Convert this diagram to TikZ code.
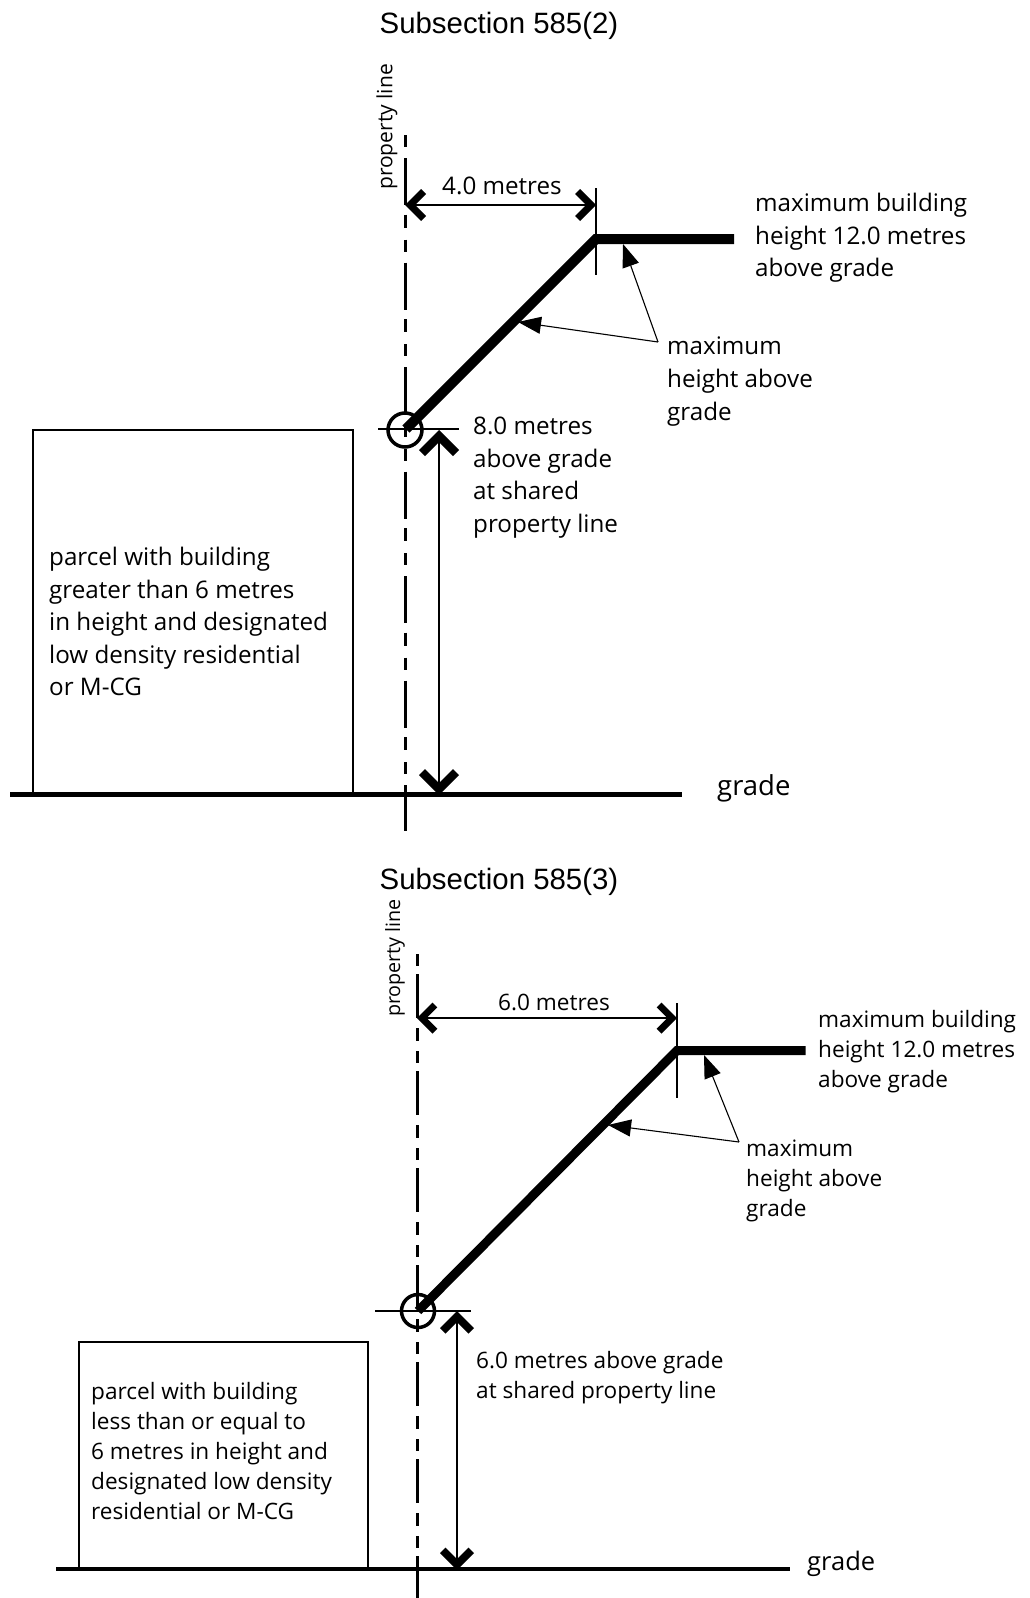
\documentclass[tikz,border=0pt]{standalone}
\usepackage{fontspec}
\setmainfont{Open Sans}
\newfontfamily\titlefont{Liberation Sans}
\usetikzlibrary{arrows.meta}
\pgfdeclarearrow{
    name=Chevron,
    defaults={length=+15pt, width=+4.5pt},
    setup code={
        \pgfarrowssettipend{0pt}
        \pgfarrowssetlineend{-\pgfarrowwidth}
        \pgfarrowssetvisualbackend{-\pgfarrowwidth}
        \pgfarrowssetbackend{-\pgfarrowlength}
        \pgfarrowshullpoint{0pt}{0pt}
        \pgfarrowsupperhullpoint{-\pgfarrowlength}{\pgfarrowlength}
        \pgfarrowssavethe\pgfarrowlength
        \pgfarrowssavethe\pgfarrowwidth
    },
    drawing code={
        \pgfpathmoveto{\pgfqpoint{0pt}{0pt}}
        \pgfpathlineto{\pgfpoint{-\pgfarrowlength}{\pgfarrowlength}}
        \pgfpathlineto{\pgfpoint{-\pgfarrowlength-\pgfarrowwidth}{\pgfarrowlength-\pgfarrowwidth}}
        \pgfpathlineto{\pgfpoint{-2\pgfarrowwidth}{0pt}}
        \pgfpathlineto{\pgfpoint{-\pgfarrowlength-\pgfarrowwidth}{-\pgfarrowlength+\pgfarrowwidth}}
        \pgfpathlineto{\pgfpoint{-\pgfarrowlength}{-\pgfarrowlength}}
        \pgfpathclose
        \pgfusepathqfill
    },
    parameters={\the\pgfarrowlength,\the\pgfarrowwidth}
}
\tikzset{
    propline/.style={line width=3pt},
    propdashA/.style={dash pattern=on 47pt off 9.5pt on 13pt off 12pt on 12pt off 11pt, dash phase=81.5pt},
    propdashB/.style={dash pattern=on 44pt off 10pt on 13pt off 10pt on 12pt off 8pt, dash phase=77pt},
    dimline/.style 2 args={line width=1.2pt, {Chevron[length=#1,width=#2]}-{Chevron[length=#1,width=#2]}},
    leader/.style={line width=1.1pt, -{Triangle[length=23pt,width=17pt]}},
    limitline/.style={line width=#1, line join=miter},
    thinline/.style={line width=1.3pt},
    textbig/.style={anchor=north west, inner sep=0pt, align=left, font=\fontsize{24.2}{32.6}\selectfont},
    textsmall/.style={anchor=north west, inner sep=0pt, align=left, font=\fontsize{22.6}{30}\selectfont},
    titletext/.style={font=\titlefont\fontsize{29.4}{32}\selectfont, inner sep=0pt},
    gradetext/.style={anchor=west, inner sep=0pt}
}
\begin{document}
\begin{tikzpicture}[x=1pt, y=-1pt]
            \useasboundingbox (0, 0) rectangle (1030, 1598);
            % Subsection 585(2)
            \node[titletext] (titleA) at (499, 26) {Subsection 585(2)};
            \coordinate (propAtop) at (405, 135);
            \coordinate (propAbot) at (405, 831);
            \draw[propline, propdashA] (propAtop) -- (propAbot);
            \node[textbig, anchor=center, rotate=90, font=\fontsize{21}{24}\selectfont] (propAlabel) at (387, 127) {property line};
            \coordinate (cornerA) at (596, 239);
            \coordinate (endA) at (734, 239);
            \coordinate (startA) at (406, 429);
            \draw[limitline=10pt] (startA) -- (cornerA) -- (endA);
            \draw[thinline] (596, 188) coordinate (tickAtop) -- (596, 275) coordinate (tickAbot);
            \draw[thinline] (378, 429) coordinate (levelAl) -- (459, 429) coordinate (levelAr);
            \draw[line width=3.5pt] (405, 430) circle (17);
            \coordinate (dimAl) at (405, 205);
            \coordinate (dimAr) at (596, 205);
            \draw[dimline={16pt}{5pt}] (dimAl) -- (dimAr);
            \node[textbig, anchor=center] (dimAlabel) at (502, 186) {4.0 metres};
            \node[textbig] (maxAtext) at (755, 193) {maximum building\\height 12.0 metres\\above grade};
            \node[textbig] (heightAtext) at (667, 337) {maximum\\height above\\grade};
            \coordinate (joinA) at (658, 342);
            \draw[leader] (joinA) -- (623, 244);
            \draw[leader] (joinA) -- (518, 322);
            \node[textbig] (eightAtext) at (473, 417) {8.0 metres\\above grade\\at shared\\property line};
            \coordinate (gradeAl) at (10, 794);
            \coordinate (gradeAr) at (682, 794);
            \draw[limitline=5pt] (gradeAl) -- (gradeAr);
            \draw[line width=2pt] (33, 794) |- (353, 430) -- (353, 794);
            \coordinate (riseAtop) at (439, 430);
            \coordinate (riseAbot) at (439, 795);
            \draw[dimline={20pt}{6pt}] (riseAtop) -- (riseAbot);
            \node[textbig] (parcelAtext) at (49, 547) {parcel with building\\greater than 6 metres\\in height and designated\\low density residential\\or M-CG};
            \node[gradetext, font=\fontsize{27.5}{30}\selectfont] (gradeAtext) at (717, 788) {grade};
            % Subsection 585(3)
            \node[titletext] (titleB) at (499, 882) {Subsection 585(3)};
            \coordinate (propBtop) at (417, 954);
            \coordinate (propBbot) at (417, 1598);
            \draw[propline, propdashB] (propBtop) -- (propBbot);
            \node[textbig, anchor=center, rotate=90, font=\fontsize{19.7}{24}\selectfont] (propBlabel) at (395, 958) {property line};
            \coordinate (cornerB) at (677, 1050.5);
            \coordinate (endB) at (805.5, 1050.5);
            \coordinate (startB) at (418, 1311);
            \draw[limitline=9pt] (startB) -- (cornerB) -- (endB);
            \draw[thinline] (677, 1003) coordinate (tickBtop) -- (677, 1098) coordinate (tickBbot);
            \draw[thinline] (375, 1311) coordinate (levelBl) -- (471, 1311) coordinate (levelBr);
            \draw[line width=3.5pt] (418, 1311) circle (16.5);
            \coordinate (dimBl) at (417, 1018);
            \coordinate (dimBr) at (677, 1018);
            \draw[dimline={15.5pt}{4.8pt}] (dimBl) -- (dimBr);
            \node[textsmall, anchor=center] (dimBlabel) at (554, 1002) {6.0 metres};
            \node[textsmall] (maxBtext) at (818, 1010) {maximum building\\height 12.0 metres\\above grade};
            \node[textsmall] (heightBtext) at (746, 1140) {maximum\\height above\\grade};
            \coordinate (joinB) at (739, 1142);
            \draw[leader] (joinB) -- (704, 1055);
            \draw[leader] (joinB) -- (608, 1125);
            \node[textsmall] (sixBtext) at (476, 1351) {6.0 metres above grade\\at shared property line};
            \coordinate (gradeBl) at (56, 1569);
            \coordinate (gradeBr) at (790, 1569);
            \draw[limitline=4pt] (gradeBl) -- (gradeBr);
            \draw[line width=1.5pt] (79, 1569) |- (368, 1342) -- (368, 1569);
            \coordinate (riseBtop) at (457, 1311);
            \coordinate (riseBbot) at (457, 1570);
            \draw[dimline={17pt}{5.5pt}] (riseBtop) -- (riseBbot);
            \node[textsmall] (parcelBtext) at (91, 1382) {parcel with building\\less than or equal to\\6 metres in height and\\designated low density\\residential or M-CG};
            \node[gradetext, font=\fontsize{25.5}{30}\selectfont] (gradeBtext) at (807, 1564) {grade};
        \end{tikzpicture}
\end{document}
